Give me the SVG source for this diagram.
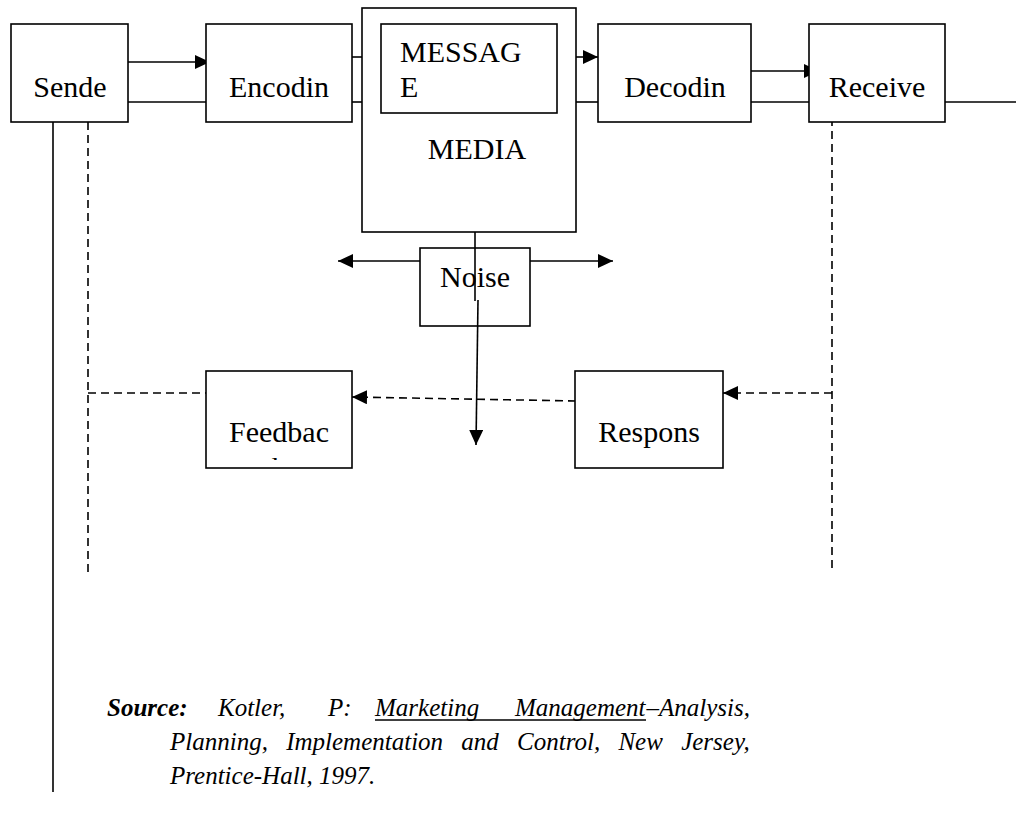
<svg xmlns="http://www.w3.org/2000/svg" width="1016" height="814" viewBox="0 0 1016 814">
<style>
.box{fill:#fff;stroke:#000;stroke-width:1.6}
.t{font-family:"Liberation Serif","Times New Roman",serif;font-size:30px;fill:#000}
.c{text-anchor:middle}
.ln{fill:none;stroke:#000;stroke-width:1.6}
.ds{fill:none;stroke:#000;stroke-width:1.6;stroke-dasharray:8 5}
.src{font-family:"Liberation Serif","Times New Roman",serif;font-size:25px;font-style:italic;fill:#000}
</style>
<defs>
<marker id="ah" viewBox="0 0 15 14" refX="15" refY="7" markerWidth="15" markerHeight="14" markerUnits="userSpaceOnUse" orient="auto">
<path d="M0,0 L15,7 L0,14 z" fill="#000"/>
</marker>
<clipPath id="fbclip"><rect x="206" y="371" width="146" height="89"/></clipPath>
</defs>
<rect width="1016" height="814" fill="#fff"/>

<g id="connectors">
<line class="ln" x1="128" y1="62" x2="210" y2="62" marker-end="url(#ah)"/>
<line class="ln" x1="128" y1="102" x2="206" y2="102"/>
<line class="ln" x1="352" y1="57" x2="362" y2="57"/>
<line class="ln" x1="352" y1="102" x2="362" y2="102"/>
<line class="ln" x1="576" y1="57" x2="598" y2="57" marker-end="url(#ah)"/>
<line class="ln" x1="576" y1="102" x2="598" y2="102"/>
<line class="ln" x1="751" y1="71" x2="819" y2="71" marker-end="url(#ah)"/>
<line class="ln" x1="751" y1="102" x2="809" y2="102"/>
<line class="ln" x1="945" y1="102" x2="1016" y2="102"/>
<line class="ln" x1="53" y1="122" x2="53" y2="792"/>
<line class="ds" x1="88" y1="572" x2="88" y2="103" marker-end="url(#ah)"/>
<line class="ds" x1="832" y1="105" x2="832" y2="573"/>
<line class="ds" x1="832" y1="393" x2="723" y2="393" marker-end="url(#ah)"/>
<line class="ds" x1="576" y1="401" x2="352" y2="397" marker-end="url(#ah)"/>
<line class="ds" x1="88" y1="393" x2="243" y2="393"/>
<line class="ln" x1="475" y1="232" x2="475" y2="301"/>
<line class="ln" x1="420" y1="261" x2="338" y2="261" marker-end="url(#ah)"/>
<line class="ln" x1="530" y1="261" x2="613" y2="261" marker-end="url(#ah)"/>
<line class="ln" x1="478" y1="300" x2="476" y2="445" marker-end="url(#ah)"/>
</g>

<g id="sender">
<rect class="box" x="11" y="24" width="117" height="98"/>
<text class="t c" x="70" y="97">Sende</text>
</g>
<g id="encoding">
<rect class="box" x="206" y="24" width="146" height="98"/>
<text class="t c" x="279" y="97">Encodin</text>
</g>
<g id="media">
<rect class="box" x="362" y="8" width="214" height="224"/>
<text class="t c" x="477" y="159">MEDIA</text>
</g>
<g id="message">
<rect class="box" x="381" y="24" width="176" height="89"/>
<text class="t" x="400" y="62">MESSAG</text>
<text class="t" x="400" y="97">E</text>
</g>
<g id="decoding">
<rect class="box" x="598" y="24" width="153" height="98"/>
<text class="t c" x="675" y="97">Decodin</text>
</g>
<g id="receiver">
<rect class="box" x="809" y="24" width="136" height="98"/>
<text class="t c" x="877" y="97">Receive</text>
</g>
<g id="noise">
<rect class="box" x="420" y="248" width="110" height="78" style="fill:none"/>
<text class="t c" x="475" y="287">Noise</text>
</g>
<g id="feedback">
<rect class="box" x="206" y="371" width="146" height="97"/>
<text class="t c" x="279" y="442">Feedbac</text>
<text class="t c" x="279" y="478" clip-path="url(#fbclip)">k</text>
</g>
<g id="response">
<rect class="box" x="575" y="371" width="148" height="97"/>
<text class="t c" x="649" y="442">Respons</text>
</g>

<g id="source">
<text class="src" y="716"><tspan x="107" font-weight="bold">Source:</tspan><tspan x="218">Kotler,</tspan><tspan x="328">P:</tspan><tspan x="375">Marketing</tspan></text>
<text class="src" y="716" x="515">Management</text>
<text class="src" y="716" x="750" text-anchor="end">–Analysis,</text>
<line x1="375" y1="720" x2="646" y2="720" stroke="#000" stroke-width="1.5"/>
<text class="src" x="170" y="750" word-spacing="12">Planning, Implementation and Control, New Jersey,</text>
<text class="src" x="170" y="784">Prentice-Hall, 1997.</text>
</g>
</svg>
